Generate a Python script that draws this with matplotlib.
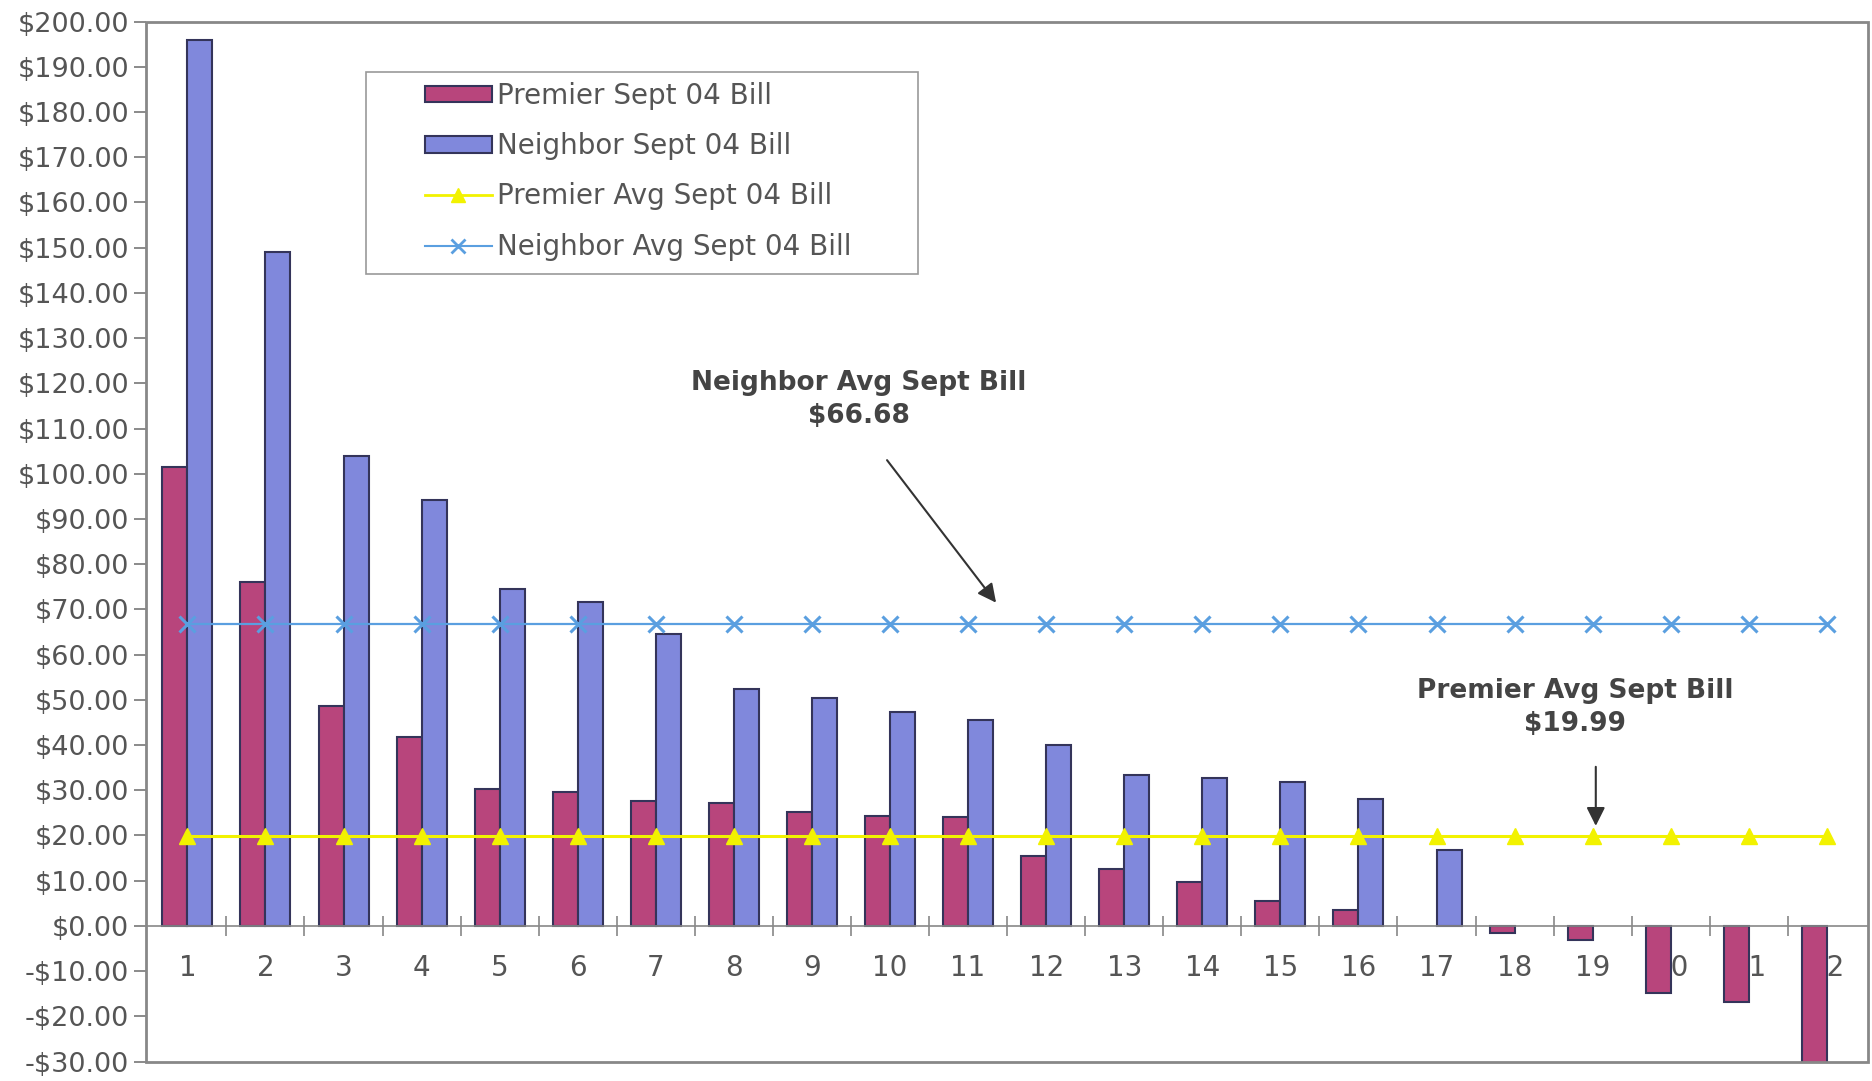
import matplotlib
matplotlib.use("Agg")
import matplotlib.pyplot as plt
import numpy as np
from matplotlib.patches import Rectangle, Patch
from matplotlib.lines import Line2D
from matplotlib.ticker import FuncFormatter, MultipleLocator

# customers 1..22, September 04 bills (nan = no bar shown)
cats = list(range(1, 23))
premier = [101.6, 76.0, 48.7, 41.7, 30.2, 29.6, 27.7, 27.1, 25.3, 24.4, 24.0, 15.5,
           12.5, 9.8, 5.6, 3.6, np.nan, -1.6, -3.1, -14.9, -16.8, -30.5]
neighbor = [196.0, 149.0, 104.0, 94.3, 74.5, 71.6, 64.5, 52.3, 50.4, 47.2, 45.5, 40.1,
            33.3, 32.8, 31.8, 28.0, 16.7, np.nan, np.nan, np.nan, np.nan, np.nan]
premier_avg = 19.99
neighbor_avg = 66.68

grey = '#555555'
c_prem = '#B8457C'
c_neig = '#8088DC'
c_edge = '#34345A'

fig = plt.figure(figsize=(18.72, 10.81), dpi=100)
ax = fig.add_axes([0.078, 0.018, 0.920, 0.962])
ax.set_axisbelow(True)

x = np.array(cats)
w = 0.32
ax.bar(x - w/2, premier, w, color=c_prem, edgecolor=c_edge, linewidth=1.5, zorder=2)
ax.bar(x + w/2, neighbor, w, color=c_neig, edgecolor=c_edge, linewidth=1.5, zorder=2)

ax.plot(x, [neighbor_avg]*len(x), color='#5A9FE0', lw=1.6, marker='x',
        markersize=11, markeredgewidth=2.2, zorder=3)
ax.plot(x, [premier_avg]*len(x), color='#F2F200', lw=2.2, marker='^',
        markersize=11, zorder=3)

ax.set_xlim(0.47, 22.53)
ax.set_ylim(-30, 200)

# frame all round, x axis line sitting at zero
for s in ['left', 'right', 'top']:
    ax.spines[s].set_visible(False)
ax.spines['bottom'].set_position(('data', 0))
ax.spines['bottom'].set_color('#888888')
ax.spines['bottom'].set_linewidth(1.2)
ax.add_patch(Rectangle((0, 0), 1, 1, transform=ax.transAxes, fill=False,
                       edgecolor='#888888', linewidth=2, clip_on=False, zorder=5))

ax.yaxis.set_major_locator(MultipleLocator(10))
ax.yaxis.set_major_formatter(FuncFormatter(
    lambda v, p: ('-\\$%.2f' % abs(v)) if v < 0 else ('\\$%.2f' % v)))
ax.tick_params(axis='y', labelsize=19.5, labelcolor=grey, color='#777777',
               length=9, width=1.2, direction='out', pad=3)

ax.set_xticks(cats)
ax.set_xticklabels([str(c) for c in cats])
ax.set_xticks(np.arange(1.5, 22, 1), minor=True)
ax.tick_params(axis='x', which='major', length=0, labelsize=20, labelcolor=grey, pad=20)
ax.tick_params(axis='x', which='minor', length=14, width=1.2, color='#888888',
               direction='inout')

# callouts
ax.text(9.6, 116.5, 'Neighbor Avg Sept Bill\n\\$66.68', ha='center', va='center',
        fontsize=19, fontweight='bold', color='#444444', linespacing=1.35)
ax.annotate('', xy=(11.38, 71.0), xytext=(9.94, 103.5),
            arrowprops=dict(arrowstyle='-|>', color='#333333', lw=1.5, mutation_scale=28))
ax.text(18.78, 48.2, 'Premier Avg Sept Bill\n\\$19.99', ha='center', va='center',
        fontsize=19, fontweight='bold', color='#444444', linespacing=1.35)
ax.annotate('', xy=(19.04, 21.5), xytext=(19.04, 35.8),
            arrowprops=dict(arrowstyle='-|>', color='#333333', lw=1.5, mutation_scale=28))

handles = [
    Patch(facecolor=c_prem, edgecolor=c_edge, linewidth=1.5),
    Patch(facecolor=c_neig, edgecolor=c_edge, linewidth=1.5),
    Line2D([], [], color='#F2F200', lw=2, marker='^', markersize=10),
    Line2D([], [], color='#5A9FE0', lw=1.5, marker='x', markersize=10, markeredgewidth=2),
]
labels = ['Premier Sept 04 Bill', 'Neighbor Sept 04 Bill',
          'Premier Avg Sept 04 Bill', 'Neighbor Avg Sept 04 Bill']
leg = ax.legend(handles, labels, loc='upper left', bbox_to_anchor=(0.162, 0.942),
                fontsize=20, labelcolor=grey, frameon=False, borderpad=0,
                labelspacing=0.8, handlelength=2.4, handleheight=0.55,
                handletextpad=0.2, borderaxespad=0)
leg.set_zorder(6)
# legend box drawn separately to get the wide side padding
ax.add_patch(Rectangle((0.1275, 0.757), 0.3205, 0.195, transform=ax.transAxes,
                       facecolor='white', edgecolor='#999999', linewidth=1.2, zorder=5.5))

plt.savefig('out.png', dpi=100)
